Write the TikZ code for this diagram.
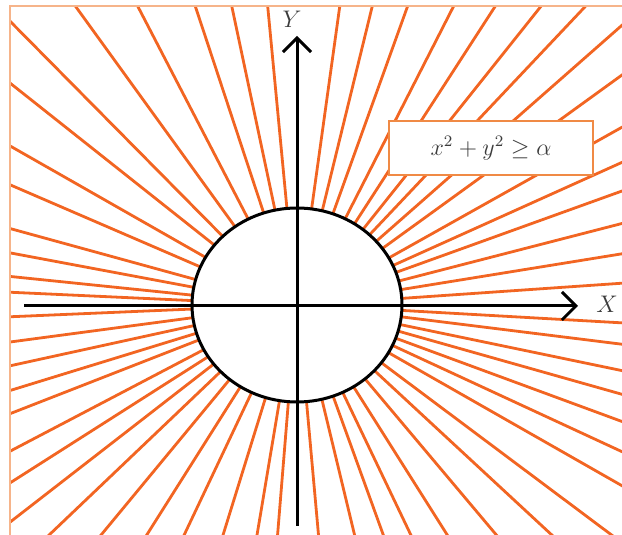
\documentclass[tikz,border=0pt]{standalone}
\usetikzlibrary{arrows.meta}

\definecolor{rayorange}{HTML}{F26522}
\definecolor{boxorange}{HTML}{F08A45}
\definecolor{frameorange}{HTML}{F6B48A}
\definecolor{labelgray}{HTML}{3C3C3C}

\begin{document}
\begin{tikzpicture}[
    x=0.5pt, y=0.5pt,
    ray/.style={rayorange, line width=1.4pt},
    rim/.style={draw=black, fill=white, line width=1.5pt},
    axis/.style={line width=1.5pt, -{Straight Barb[length=7pt,width=14pt]}},
    axlabel/.style={text=labelgray, font=\large},
    condbox/.style={draw=boxorange, fill=white, line width=1pt, minimum width=102pt,
                    minimum height=27pt, text=labelgray, font=\large}
]
\useasboundingbox (0,0) rectangle (622,535);

\coordinate (O) at (297,230);

\begin{scope}
  \clip (10,0) rectangle (622,529);
  \foreach \a in {3.9,9.1,14.3,19.6,24,29,35.6,41,46.3,51.1,56.8,62.7,70,76.1,82,
                  95.5,102.1,108.5,117.7,126.2,135,141.9,150.6,156.9,164.8,169.5,
                  174.2,177.4,182.4,187.5,192.2,196.9,201.1,207.4,212.2,217.5,223.3,
                  230.1,237.4,244.4,252.6,260.4,265.3,275.2,283.7,290.1,295.8,302.6,
                  310.4,317.5,323.5,330.6,335.4,340,344.4,348.4,353,356.8}
    \draw[ray, shift={(O)}] (\a:100 and 92) -- (\a:800);
\end{scope}

\draw[frameorange, line width=0.7pt] (10,0) -- (10,529) -- (622,529);

\draw[rim] (O) ellipse (105 and 97);

\coordinate (xstart) at (24,229);
\coordinate (xend)   at (578,229);
\coordinate (ystart) at (297,9);
\coordinate (yend)   at (297,499);

\draw[axis] (xstart) -- (xend);
\draw[axis] (ystart) -- (yend);

\node[axlabel] (xlab) at (607,231) {$X$};
\node[axlabel] (ylab) at (292,516) {$Y$};

\node[condbox] (cond) at (491,387) {$x^2+y^2\geq\alpha$};

\end{tikzpicture}
\end{document}
